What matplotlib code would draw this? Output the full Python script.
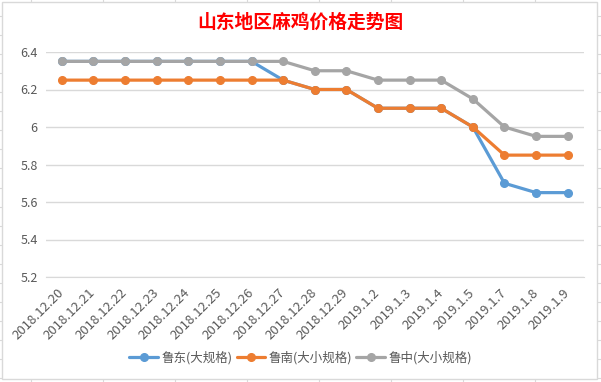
import matplotlib.pyplot as plt
import numpy as np
from matplotlib.patches import Rectangle
from matplotlib.lines import Line2D

plt.rcParams['font.family'] = ['Noto Sans CJK SC', 'DejaVu Sans']

dates = ['2018.12.20', '2018.12.21', '2018.12.22', '2018.12.23', '2018.12.24',
         '2018.12.25', '2018.12.26', '2018.12.27', '2018.12.28', '2018.12.29',
         '2019.1.2', '2019.1.3', '2019.1.4', '2019.1.5', '2019.1.7',
         '2019.1.8', '2019.1.9']

ludong = [6.35, 6.35, 6.35, 6.35, 6.35, 6.35, 6.35, 6.25, 6.2, 6.2,
          6.1, 6.1, 6.1, 6.0, 5.7, 5.65, 5.65]
lunan = [6.25, 6.25, 6.25, 6.25, 6.25, 6.25, 6.25, 6.25, 6.2, 6.2,
         6.1, 6.1, 6.1, 6.0, 5.85, 5.85, 5.85]
luzhong = [6.35, 6.35, 6.35, 6.35, 6.35, 6.35, 6.35, 6.35, 6.3, 6.3,
           6.25, 6.25, 6.25, 6.15, 6.0, 5.95, 5.95]

names = ['鲁东(大规格)', '鲁南(大小规格)', '鲁中(大小规格)']
colors = ['#5B9BD5', '#ED7D31', '#A5A5A5']

W, H = 601, 382
fig = plt.figure(figsize=(6.01, 3.82), dpi=100)

# spreadsheet cell grid behind the chart
grid_c = '#D9D9D9'
for gx in np.arange(30.7, W, 72):
    fig.add_artist(Line2D([gx / W] * 2, [0, 1], color=grid_c, lw=0.8, zorder=-3))
for gy in np.arange(15.8, H, 19.08):
    fig.add_artist(Line2D([0, 1], [1 - gy / H] * 2, color=grid_c, lw=0.8, zorder=-3))

# chart area
fig.add_artist(Rectangle((2 / W, 1 - 379 / H), 595 / W, 377 / H,
                         facecolor='white', edgecolor='#D9D9D9', lw=1.0, zorder=-2))

ax = fig.add_axes([46 / W, 1 - 277 / H, 537.5 / W, 225 / H])
ax.patch.set_alpha(0)
x = np.arange(len(dates))
series = [ludong, lunan, luzhong]
for vals, name, c in zip(series, names, colors):
    ax.plot(x, vals, color=c, lw=2.3, marker='o', ms=5.5, label=name,
            solid_capstyle='round')

ax.set_xlim(-0.5, len(dates) - 0.5)
ax.set_ylim(5.2, 6.4)
yt = [5.2, 5.4, 5.6, 5.8, 6.0, 6.2, 6.4]
ax.set_yticks(yt)
ax.set_yticklabels(['%g' % v for v in yt])
ax.grid(axis='y', color='#D9D9D9', lw=1)
ax.set_axisbelow(True)
for s in ['top', 'right', 'left']:
    ax.spines[s].set_visible(False)
ax.spines['bottom'].set_color('#D9D9D9')
ax.tick_params(axis='both', length=0, labelsize=9, colors='#595959')
ax.tick_params(axis='y', pad=6)
ax.set_xticks(x)
ax.set_xticklabels(dates, rotation=45, ha='right', va='center',
                   rotation_mode='anchor', fontsize=9.5)
ax.tick_params(axis='x', pad=10)

fig.text(0.5, 1 - 22 / H, '山东地区麻鸡价格走势图', color='#FF0000',
         fontsize=13.5, fontweight='bold', ha='center', va='center')

leg = fig.legend(loc='center', bbox_to_anchor=(0.5, 1 - 358 / H), ncol=3,
                 frameon=False, fontsize=9, handlelength=2.3,
                 columnspacing=0.35, handletextpad=0.25)
for t in leg.get_texts():
    t.set_color('#595959')

fig.savefig('out.png', dpi=100)
